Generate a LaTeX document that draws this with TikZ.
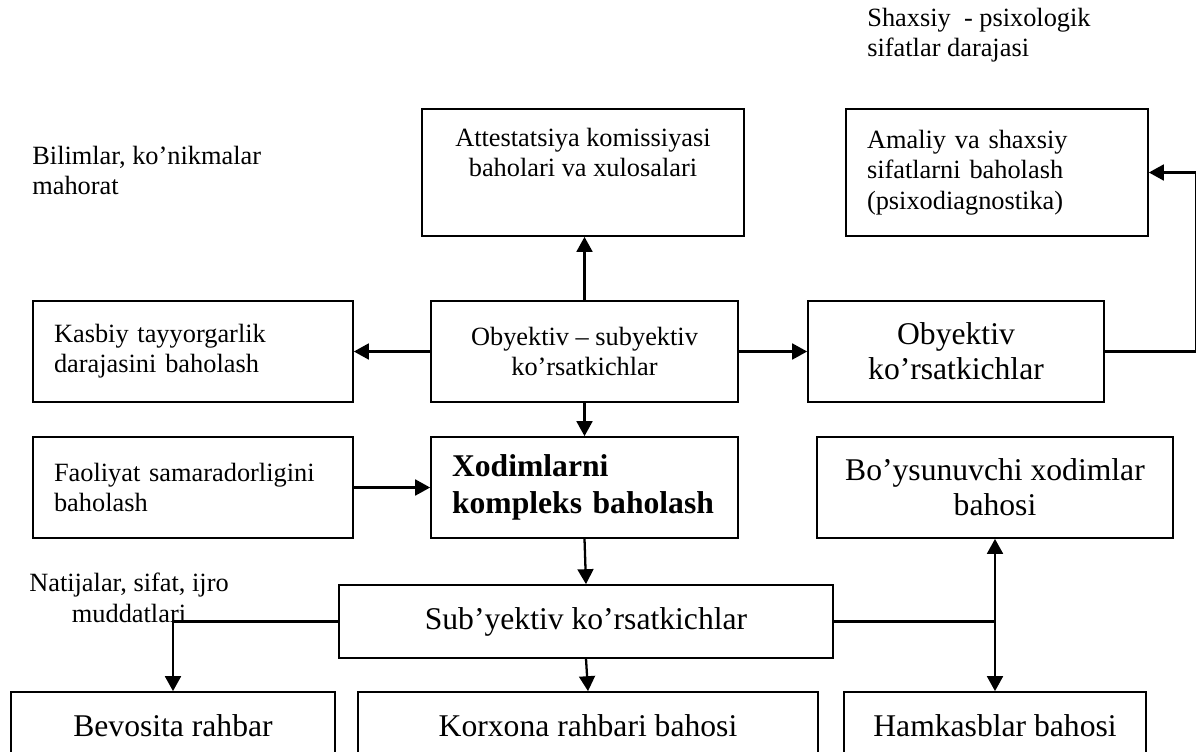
\documentclass[tikz,border=0pt]{standalone}
\usepackage{fontspec}
\setmainfont{Liberation Serif}
\usepackage{tikz}
\usetikzlibrary{positioning, arrows.meta}
\newcommand{\smalltxt}{\fontsize{15}{17.2}\selectfont}
\newcommand{\bigtxt}{\fontsize{18}{20}\selectfont}
\newcommand{\boldtxt}{\fontsize{18}{21}\selectfont\bfseries}

\begin{document}
\begin{tikzpicture}[
  x=0.02cm, y=-0.02cm,
  font=\smalltxt,
  box/.style={rectangle, draw, line width=1pt, inner xsep=0.42cm, inner ysep=2pt, minimum height=2.02cm, align=center},
  lbox/.style={box, align=left},
  bigbox/.style={box, font=\bigtxt},
  note/.style={inner sep=0pt, anchor=north west, align=left},
  arr/.style={-{Triangle[length=8.5pt, width=9pt]}, line width=1.3pt},
  link/.style={line width=1.3pt}
]
\clip (0,0) rectangle (1196,751);
% ----- free notes -----
\node[note] (shx) at (867,8) {Shaxsiy~~- psixologik\\sifatlar darajasi};
\node[note] (bil) at (32,146) {Bilimlar, ko’nikmalar\\mahorat};
\node[note, anchor=north, align=center] (nat) at (129,573) {Natijalar, sifat, ijro\\muddatlari};
% ----- upper boxes -----
\node[box, minimum width=6.44cm, minimum height=2.54cm] (att) at (583,172.5) {Attestatsiya komissiyasi\\baholari va xulosalari\\[2mm]~};
\node[lbox, text width=5.2cm, minimum height=2.54cm] (amal) at (997,172.5) {Amaliy va shaxsiy\\sifatlarni baholash\\(psixodiagnostika)};
\node[lbox, text width=5.56cm] (kasb) at (193,351.5) {Kasbiy tayyorgarlik\\darajasini baholash};
\node[box, minimum width=6.14cm] (osub) at (584.5,351.5) {Obyektiv – subyektiv\\ko’rsatkichlar};
\node[bigbox, minimum width=5.92cm] (obj) at (956,351.5) {Obyektiv\\ko’rsatkichlar};
% ----- middle boxes -----
\node[lbox, text width=5.56cm] (faol) at (193,487.5) {Faoliyat samaradorligini\\baholash};
\node[lbox, font=\boldtxt, text width=5.30cm] (xod) at (584.5,487.5) {Xodimlarni\\kompleks baholash};
\node[bigbox, minimum width=7.12cm] (boy) at (995,487.5) {Bo’ysunuvchi xodimlar\\bahosi};
\node[bigbox, minimum width=9.88cm, minimum height=1.46cm] (sub) at (586,621.5) {Sub’yektiv ko’rsatkichlar};
% ----- bottom row -----
\node[bigbox, minimum width=6.48cm, minimum height=1.36cm] (bev) at (173,726) {Bevosita rahbar};
\node[bigbox, minimum width=9.2cm, minimum height=1.36cm] (kor) at (588,726) {Korxona rahbari bahosi};
\node[bigbox, minimum width=6.04cm, minimum height=1.36cm] (ham) at (995,726) {Hamkasblar bahosi};
% ----- connectors -----
\draw[arr] (osub.north) -- (osub.north |- att.south);
\draw[arr] (osub.south) -- (xod.north);
\draw[arr] (osub.west) -- (kasb.east);
\draw[arr] (osub.east) -- (obj.west);
\draw[arr] (obj.east) -- ++(91,0) |- (amal.east);
\draw[arr] (faol.east) -- (xod.west);
\draw[arr] (xod.south) -- (sub.north);
\draw[arr] (sub.south) -- (kor.north);
\draw[arr] (sub.west) -| (bev.north);
\draw[link] (sub.east) -- (boy.south |- sub.east) coordinate (jn);
\draw[arr] (jn) -- (boy.south);
\draw[arr] (jn) -- (ham.north);
\end{tikzpicture}
\end{document}
